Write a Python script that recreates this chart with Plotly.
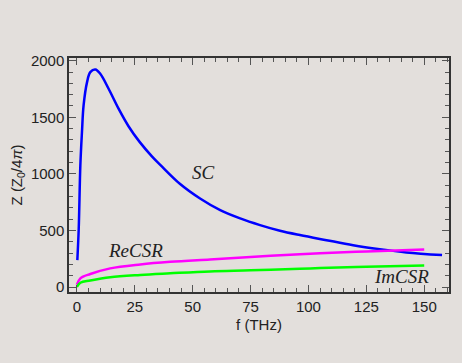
import plotly.graph_objects as go

# SC curve
sc_f = [0.2, 0.8, 1.5, 2.2, 2.9, 4.4, 5.8, 8.0, 10.1, 13.7, 18.0, 22.3, 27.0, 32.4, 36.0,
        44.6, 53.2, 61.9, 70.5, 79.1, 87.7, 96.3, 107.8, 119.3, 130.8, 142.3, 157.7]
sc_z = [238, 517, 1076, 1370, 1605, 1811, 1899, 1922, 1884, 1752, 1576, 1421, 1285, 1155, 1080,
        910, 782, 679, 606, 547, 497, 459, 414, 370, 335, 306, 282]

# CSR curves
csr_f = [0.0, 1.5, 5.8, 14.4, 27.4, 40.3, 57.5, 75, 96.3, 105, 125, 150]
re_csr = [20, 77, 115, 165, 200, 223, 244, 265, 290, 298, 315, 332]
im_csr = [0, 38, 58, 87, 107, 121, 138, 148, 162, 167, 179, 191]

x_ticks = [0, 25, 50, 75, 100, 125, 150]
y_ticks = [0, 500, 1000, 1500, 2000]

panel = "#e3dfdc"
fig = go.Figure()
fig.add_trace(go.Scatter(x=sc_f, y=sc_z, mode="lines", line=dict(color="#0000ff", width=2.5, shape="spline", smoothing=1),
                         showlegend=False))
fig.add_trace(go.Scatter(x=csr_f, y=re_csr, mode="lines", line=dict(color="#ff00ff", width=2.5, shape="spline", smoothing=1),
                         showlegend=False))
fig.add_trace(go.Scatter(x=csr_f, y=im_csr, mode="lines", line=dict(color="#00ff00", width=2.5, shape="spline", smoothing=1),
                         showlegend=False))

lab_font = dict(family="Liberation Serif", size=19, color="#222")
for txt, x, y in [("<i>SC</i>", 54.5, 1008), ("<i>ReCSR</i>", 25.2, 326), ("<i>ImCSR</i>", 140.3, 97)]:
    fig.add_annotation(x=x, y=y, text=txt, showarrow=False, font=lab_font, xanchor="center", yanchor="middle")

axis_common = dict(
    showgrid=False, zeroline=False, showline=True, linecolor="#333", linewidth=1.5,
    mirror="ticks", ticks="inside", ticklen=7, tickwidth=1.2, tickcolor="#555",
    tickfont=dict(family="Liberation Sans", size=15, color="#222"),
    title_font=dict(family="Liberation Sans", size=15, color="#222"),
    automargin=False,
)
fig.update_xaxes(range=[-3.4, 160.7], tickvals=x_ticks, title_text="f (THz)", title_standoff=6,
                 minor=dict(dtick=5, tick0=0, ticks="inside", ticklen=4, tickcolor="#555", tickwidth=1),
                 **axis_common)
fig.update_yaxes(range=[-44, 2024], tickvals=y_ticks, title_text="Z (Z<sub>0</sub>/4<i>π</i>)", title_standoff=10,
                 minor=dict(dtick=100, tick0=0, ticks="inside", ticklen=4, tickcolor="#555", tickwidth=1),
                 **axis_common)

fig.update_layout(
    width=462, height=363,
    margin=dict(l=61, r=21, t=50, b=79),
    paper_bgcolor=panel, plot_bgcolor=panel,
)
fig.write_html("out.html", post_script="document.body.style.background='#e3dfdc';document.documentElement.style.background='#e3dfdc';")
